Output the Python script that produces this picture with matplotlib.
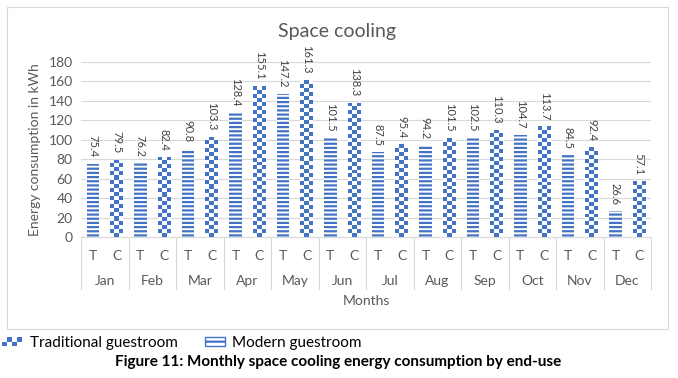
import numpy as np
import matplotlib
matplotlib.use("Agg")
import matplotlib.pyplot as plt
from matplotlib.colors import ListedColormap
from matplotlib.patches import Rectangle, Patch
from matplotlib.legend_handler import HandlerBase

plt.rcParams['font.family'] = ['Lato', 'DejaVu Sans']
plt.rcParams['hatch.linewidth'] = 1.6

# data
months = ['Jan', 'Feb', 'Mar', 'Apr', 'May', 'Jun', 'Jul', 'Aug', 'Sep', 'Oct', 'Nov', 'Dec']
sub_labels = ['T', 'C']
t_values = [75.4, 76.2, 90.8, 128.4, 147.2, 101.5, 87.5, 94.2, 102.5, 104.7, 84.5, 26.6]
c_values = [79.5, 82.4, 103.3, 155.1, 161.3, 138.3, 95.4, 101.5, 110.3, 113.7, 92.4, 57.1]

BLUE = '#4472C4'
GREY_TXT = '#595959'
GRID = '#d9d9d9'
W, H = 678, 378


class CheckerHandler(HandlerBase):
    # draws a little checkerboard swatch in the legend
    def create_artists(self, legend, orig_handle, xdescent, ydescent,
                       width, height, fontsize, trans):
        nx, ny = 4, 2
        w, h = width / nx, height / ny
        out = []
        for i in range(nx):
            for j in range(ny):
                if (i + j) % 2 == 0:
                    out.append(Rectangle((-xdescent + i * w, -ydescent + j * h), w, h,
                                         facecolor=BLUE, edgecolor='none', transform=trans))
        return out


fig = plt.figure(figsize=(W / 100, H / 100), dpi=100)
ax = fig.add_axes([81 / W, 1 - 237 / H, 570 / W, 175 / H])

x = np.arange(len(months))
xt = 2 * x
xc = 2 * x + 1
bw = 0.53

# T bars: horizontal stripes
ax.bar(xt, t_values, bw, facecolor='white', edgecolor=BLUE, linewidth=0,
       hatch='----', zorder=2)

# C bars: checkerboard, painted with a clipped image
bars_c = ax.bar(xc, c_values, bw, facecolor='white', edgecolor='none', zorder=2)
check_cmap = ListedColormap(['white', BLUE])
for b in bars_c:
    h = b.get_height()
    rows = max(1, int(round(h / 4.1)))
    grid = (np.add.outer(np.arange(rows), np.arange(3)) % 2)
    im = ax.imshow(grid, cmap=check_cmap, aspect='auto', interpolation='nearest',
                   origin='lower', zorder=3,
                   extent=(b.get_x(), b.get_x() + b.get_width(), 0, h))
    im.set_clip_path(b)

for xs, vals in ((xt, t_values), (xc, c_values)):
    for xi, v in zip(xs, vals):
        ax.annotate(f"{v:.1f}", (xi, v), xytext=(0, 4.5), textcoords='offset points',
                    rotation=-90, ha='center', va='bottom', fontsize=8, color='#404040')

ax.set_xlim(-0.5, 2 * len(months) - 0.5)
ax.set_ylim(0, 180)
ax.set_yticks(np.arange(0, 181, 20))
ax.yaxis.grid(True, color=GRID, linewidth=0.8)
ax.set_axisbelow(True)
for s in ['top', 'right', 'left']:
    ax.spines[s].set_visible(False)
ax.spines['bottom'].set_color(GRID)
ax.tick_params(axis='y', length=0, labelsize=10, labelcolor=GREY_TXT, pad=6)

# two-level category axis
ax.set_xticks(np.arange(2 * len(months)))
ax.set_xticklabels(sub_labels * len(months))
ax.tick_params(axis='x', which='major', length=0, labelsize=10, labelcolor=GREY_TXT, pad=9)
ax.set_xticks(np.arange(-0.5, 2 * len(months), 2), minor=True)
ax.tick_params(axis='x', which='minor', length=38, width=0.8, color=GRID, direction='out')
for i, m in enumerate(months):
    ax.text(2 * i + 0.5, -44 / 175, m, transform=ax.get_xaxis_transform(),
            ha='center', va='center', fontsize=10, color=GREY_TXT)
ax.text(0.5, -64 / 175, 'Months', transform=ax.transAxes, ha='center', va='center',
        fontsize=10, color=GREY_TXT)
ax.set_ylabel('Energy consumption in kWh', fontsize=10, color=GREY_TXT, labelpad=5)

fig.text(337 / W, 1 - 32 / H, 'Space cooling', ha='center', va='center',
         fontsize=14, color=GREY_TXT)

# chart frame
fig.patches.append(Rectangle((7 / W, 1 - 329 / H), 661 / W, 322 / H, transform=fig.transFigure,
                             facecolor='none', edgecolor=GRID, linewidth=0.8))

handles = [Patch(), Patch(facecolor='white', edgecolor=BLUE, hatch='---', linewidth=1)]
fig.legend(handles, ['Traditional guestroom', 'Modern guestroom'],
           handler_map={handles[0]: CheckerHandler()},
           loc='center left', bbox_to_anchor=(2 / W, 1 - 343 / H), ncol=2,
           frameon=False, fontsize=11, handlelength=1.3, handleheight=0.6,
           handletextpad=0.5, columnspacing=1.8, borderaxespad=0, borderpad=0)

fig.text(338 / W, 1 - 362 / H, 'Figure 11: Monthly space cooling energy consumption by end-use',
         ha='center', va='center', fontsize=11, fontweight='bold', color='black')

fig.savefig('out.png', dpi=100)
